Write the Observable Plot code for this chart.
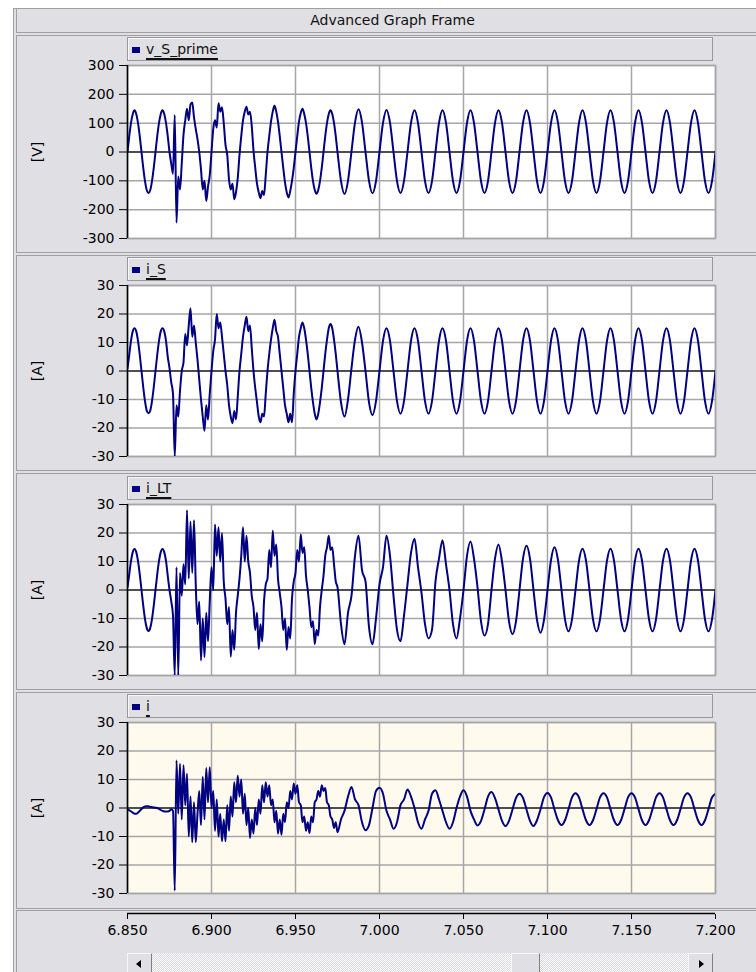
<!DOCTYPE html>
<html lang="en">
<head>
<meta charset="utf-8">
<title>Advanced Graph Frame</title>
<script src="https://cdn.jsdelivr.net/npm/d3@7"></script>
<script src="https://cdn.jsdelivr.net/npm/@observablehq/plot@0.6"></script>
<style>
  html, body { margin: 0; padding: 0; background: #ffffff; }
  body { position: relative; width: 756px; height: 972px; overflow: hidden;
         font-family: "DejaVu Sans", Verdana, sans-serif; font-size: 14px; color: #111; }
  .abs { position: absolute; box-sizing: border-box; }
  #frame { left: 13px; top: 8px; width: 800px; height: 1000px; background: #e0dfe3;
           border-left: 1px solid #a0a0a4; border-top: 1px solid #a0a0a4; }
  #title { left: 16px; top: 9px; width: 752px; height: 24px; line-height: 23px; text-align: center;
           border-left: 1px solid #a0a0a4; border-bottom: 1px solid #a0a0a4; color: #111; }
  .panel { left: 16px; width: 800px; border: 1px solid #a0a0a4; border-right: none; }
  .legend { left: 127px; width: 586px; height: 24px; background: #e0dfe3;
            border: 1px solid #98989c; box-shadow: inset 1px 1px 0 #f7f7f9; }
  .legend .sw { position: absolute; left: 4px; top: 9px; width: 8px; height: 6px; background: #000080; }
  .legend .lb { position: absolute; left: 18px; top: 3px; line-height: 16px; white-space: nowrap;
                text-decoration: underline; text-decoration-thickness: 1.5px;
                text-underline-offset: 4px; color: #111; }
  .chart { left: 0; }
  .chart svg { display: block; overflow: visible; }
  #track { left: 127px; top: 953px; width: 586px; height: 24px;
           background: repeating-conic-gradient(#d8d8dc 0 25%, #ffffff 0 50%) 0 0 / 2px 2px; }
  .btn { top: 953px; height: 24px; background: #e0dfe3; border: 1px solid;
         border-color: #f7f7f9 #808084 #808084 #f7f7f9; }
  .tri { position: absolute; top: 6px; width: 0; height: 0;
         border-top: 4px solid transparent; border-bottom: 4px solid transparent; }
</style>
</head>
<body>
<div class="abs" id="frame"></div>
<div class="abs" id="title">Advanced Graph Frame</div>
<script>
// ---- sampling clock -------------------------------------------------------
// Dense samples (1/960 s) through the disturbance, coarser (1/480 s) afterwards.
const denseStart = 6.85, denseStep = 1 / 960;
const sparseStart = 6.975, sparseStep = 1 / 480;

// ---- axis ticks -------------------------------------------------------------
const timeTicks = [6.85, 6.9, 6.95, 7.0, 7.05, 7.1, 7.15, 7.2];
const voltTicks = [-300, -200, -100, 0, 100, 200, 300];
const ampTicks = [-30, -20, -10, 0, 10, 20, 30];

// ---- series names and units ---------------------------------------------------
const seriesNames = ["v_S_prime", "i_S", "i_LT", "i"];
const seriesUnits = ["[V]", "[A]", "[A]", "[A]"];

// ---- v_S_prime [V] ------------------------------------------------------------
const vSDense = [
  0, 55, 101, 132, 145, 132, 101, 55, 0, -55, -101, -132, -142, -132, -101, -55,
  0, 55, 101, 132, 145, 132, 101, 55, 0, -40, -75, 128, -245, -85, -130, -40,
  60, 110, 150, 110, 165, 172, 120, 80, 45, 0, -60, -130, -100, -170, -120, -80,
  0, 80, 110, 85, 169, 140, 155, 100, 25, -10, -95, -130, -110, -164, -140, -90,
  -10, 55, 110, 140, 157, 130, 140, 90, 5, -55, -110, -140, -160, -135, -150, -80,
  0, 55, 105, 140, 160, 140, 105, 55, 0, -55, -105, -140, -158, -135, -100, -55,
  0, 55, 105, 135, 150, 132, 101, 55, 0, -55, -101, -132, -145, -132, -101, -55,
  0, 55, 101, 132, 145, 132, 101, 55
];
const vSSparse = [
  0, -101, -146, -100, 2, 102, 148, 103,
  0, -100, -143, -101, 0, 101, 146, 102,
  0, -101, -142, -100, 0, 101, 145, 101,
  0, -101, -142, -101, 0, 101, 145, 101,
  0, -101, -142, -101, 0, 101, 145, 101,
  0, -101, -142, -101, 0, 101, 145, 101,
  0, -101, -142, -101, 0, 101, 145, 101,
  0, -101, -142, -101, 0, 101, 145, 101,
  0, -101, -142, -101, 0, 101, 145, 101,
  0, -101, -142, -101, 0, 101, 145, 101,
  0, -101, -142, -101, 0, 101, 145, 101,
  0, -101, -142, -101, 0, 101, 145, 101,
  0, -101, -142, -101, 0, 101, 145, 101,
  0, -101, -142, -101, 0
];

// ---- i_S [A] ------------------------------------------------------------------
const iSDense = [
  1, 5.7, 10.6, 13.9, 15, 13.9, 10.6, 5.7, 0, -5.7, -10.6, -13.9, -14.8, -13.9, -10.6, -5.7,
  0, 5.7, 10.6, 13.9, 15, 13.9, 10.6, 5, 1, -4, -8, -30, -12, -16, -7, 0,
  3, 13, 9, 16, 22, 12, 16, 10, 4, -3, -10, -16, -21, -12, -17, -8,
  0, 7, 11, 20, 15, 17, 12, 6, 0, -5, -12, -16, -18.3, -14, -17, -9,
  0, 6, 12, 16, 19, 14, 16, 8, 0, -6, -11, -16, -18, -15, -16, -8,
  0, 6, 11, 15, 18, 14, 12, 6, 0, -6, -12, -15, -18, -15, -18, -8,
  0, 6, 12, 15, 17, 15, 11, 6, 0, -6, -11, -15, -17, -15, -11, -6,
  0, 6, 11, 15, 16.5, 15, 11, 6
];
const iSSparse = [
  0, -11, -16, -10, 1, 11, 15.5, 10,
  0, -11, -15.5, -10.6, 0, 10.6, 15, 10.6,
  0, -10.6, -15, -10.6, 0, 10.6, 15, 10.6,
  0, -10.6, -15, -10.6, 0, 10.6, 15, 10.6,
  0, -10.6, -15, -10.6, 0, 10.6, 15, 10.6,
  0, -10.6, -15, -10.6, 0, 10.6, 15, 10.6,
  0, -10.6, -15, -10.6, 0, 10.6, 15, 10.6,
  0, -10.6, -15, -10.6, 0, 10.6, 15, 10.6,
  0, -10.6, -15, -10.6, 0, 10.6, 15, 10.6,
  0, -10.6, -15, -10.6, 0, 10.6, 15, 10.6,
  0, -10.6, -15, -10.6, 0, 10.6, 15, 10.6,
  0, -10.6, -15, -10.6, 0, 10.6, 15, 10.6,
  0, -10.6, -15, -10.6, 0, 10.6, 15, 10.6,
  0, -10.6, -15, -10.6, 0
];

// ---- i_LT [A] -----------------------------------------------------------------
const iLTDense = [
  1, 5.5, 10.2, 13.3, 14.4, 13.3, 10.2, 5.5, 0, -5.5, -10.2, -13.3, -14.4, -13.3, -10.2, -5.5,
  0, 5.5, 10.2, 13.3, 14.4, 13.3, 10.2, 5, 0, -4, -9, -30, 8, -30, 6, -2,
  9, 2, 28, 4, 24, 6, 24.5, 2, -12, -4, -24.7, -10, -23.5, -8, -18, -4,
  8, 0, 23, 12, 22, 10, 20, 3, -3, -12, -6, -23.4, -14, -21, -8, -2,
  4, 12, 22, 10, 19, 10, 6, -2, -6, -14, -8, -20.7, -12, -18, -4, 2,
  4, 14, 8, 20.8, 12, 16, 4, -1, -6, -14, -10, -21, -13, -17, -3, 3,
  6, 14, 10, 19.6, 13, 15, 5, 0, -6, -13, -11, -19, -14, -16, -6, 0,
  5, 12, 15, 19, 14, 15, 9, 3
];
const iLTSparse = [
  1, -12, -19, -8, -2, 12, 19, 7,
  3, -13, -19, -10, 2, 8, 19, 12,
  -2, -14, -18, -9, 2, 13, 18, 8,
  -1, -12, -17, -14, 3, 11, 17.5, 9,
  0, -12, -17, -10, 0, 12, 17, 11,
  1, -11, -16, -12, 0, 11, 16, 10,
  0, -11, -15.5, -11, 0, 11, 15.5, 11,
  0, -10.5, -15, -10.5, 0, 10.5, 15, 10.5,
  0, -10.3, -14.5, -10.3, 0, 10.3, 14.5, 10.3,
  0, -10.3, -14.5, -10.3, 0, 10.3, 14.5, 10.3,
  0, -10.3, -14.5, -10.3, 0, 10.3, 14.5, 10.3,
  0, -10.3, -14.5, -10.3, 0, 10.3, 14.5, 10.3,
  0, -10.3, -14.5, -10.3, 0, 10.3, 14.5, 10.3,
  0, -10.3, -14.5, -10.3, 0
];

// ---- i [A] --------------------------------------------------------------------
const iDense = [
  -0.5, -0.8, -1.2, -1.6, -2, -2, -1.6, -1, -0.4, 0.2, 0.5, 0.6, 0.6, 0.4, 0.3, 0.2,
  0.1, 0, -0.3, -0.7, -1, -1.2, -1.2, -1.2, -1, -0.4, -1, -29, 16.7, -2, 15.5, -4,
  15, 1, 12, -10, 4, -12, 2, -12, -2, 6, -6, 11, -4, 14, 2, 14.3,
  0, 6, -8, 3, -10, -2, -11.7, -4, -11.7, 1, -8, 4, -3, 9, 2, 11.4,
  4, 10, -2, 5, -6, 0, -10.5, -4, -9, 0, -6, 3, -2, 8, 2, 9,
  4, 8, 1, 3, -5, -1, -9, -4, -9.4, -2, -5, 2, 0, 6, 3, 8.6,
  5, 8, 2, 1, -5, -3, -8, -5, -8.8, -3, -5, 2, 3, 6, 4, 8,
  6, 7, 2, 1, -3, -4, -7, -5
];
const iSparse = [
  -8.5, -4, -1, 4, 7.4, 3, 1, -5,
  -7.8, -6, 0, 6, 7.1, 5, -1, -4,
  -7.3, -5, 1, 3, 6.5, 4, 0, -5,
  -7.3, -4, -1, 5, 6.2, 3, -1, -5,
  -7.3, -5, 0, 4, 6.2, 4, -1, -4,
  -6.1, -4.5, -0.5, 4, 5.6, 3.5, -0.5, -4.5,
  -6.3, -4.5, -0.5, 3.5, 5, 3.5, -0.5, -4.5,
  -6.3, -4.3, -0.5, 3.8, 5.3, 3.7, -0.5, -4.3,
  -6, -4.3, -0.4, 3.7, 5.2, 3.7, -0.4, -4.3,
  -6, -4.3, -0.4, 3.7, 5.2, 3.7, -0.4, -4.3,
  -6, -4.3, -0.4, 3.7, 5.2, 3.7, -0.4, -4.3,
  -6, -4.3, -0.4, 3.7, 5.2, 3.7, -0.4, -4.3,
  -6, -4.3, -0.4, 3.7, 5.2, 3.7, -0.4, -4.3,
  -6, -4.3, -0.4, 3.7, 5
];

// ---- page layout (pixel rows of each graph panel) -------------------------------
const layout = [
  {box: [35, 252], plot: [65, 238], fill: "#ffffff"},
  {box: [255, 470], plot: [285, 456], fill: "#ffffff"},
  {box: [473, 689], plot: [504, 675], fill: "#ffffff"},
  {box: [692, 908], plot: [722, 893], fill: "#fffaee"}
];
const denseSeries = [vSDense, iSDense, iLTDense, iDense];
const sparseSeries = [vSSparse, iSSparse, iLTSparse, iSparse];
const tickSets = [voltTicks, ampTicks, ampTicks, ampTicks];

const gridColor = "#a6a6a6";
const traceColor = "#000080";
const plotStyle = {
  background: "transparent",
  fontFamily: "'DejaVu Sans', Verdana, sans-serif",
  fontSize: "14px",
  color: "#000",
  overflow: "visible"
};

function samples(dense, sparse) {
  const rows = dense.map((y, k) => ({t: denseStart + k * denseStep, y}));
  sparse.forEach((y, k) => rows.push({t: sparseStart + k * sparseStep, y}));
  return rows;
}

function addDiv(cls, css, html) {
  const d = document.createElement("div");
  d.className = "abs " + cls;
  Object.assign(d.style, css);
  if (html != null) d.innerHTML = html;
  document.body.appendChild(d);
  return d;
}

const mt = 12, mb = 12;
layout.forEach((L, i) => {
  addDiv("panel", {top: L.box[0] + "px", height: (L.box[1] - L.box[0] + 1) + "px"});

  const leg = addDiv("legend", {top: (L.plot[0] - 28) + "px"});
  leg.innerHTML = `<span class="sw"></span><span class="lb">${seriesNames[i]}</span>`;

  const ticks = tickSets[i];
  const lim = d3.max(ticks);
  const chart = Plot.plot({
    width: 756,
    height: (L.plot[1] - L.plot[0]) + mt + mb,
    marginTop: mt, marginBottom: mb, marginLeft: 127, marginRight: 41,
    x: {domain: [timeTicks[0], timeTicks[timeTicks.length - 1]], axis: null},
    y: {domain: [-lim, lim], axis: null},
    style: plotStyle,
    marks: [
      Plot.frame({fill: L.fill, stroke: "none"}),
      Plot.gridX(timeTicks, {stroke: gridColor, strokeOpacity: 1, strokeWidth: 1.5}),
      Plot.gridY(ticks, {stroke: gridColor, strokeOpacity: 1, strokeWidth: 1.5}),
      Plot.frame({stroke: gridColor, strokeWidth: 1.5}),
      Plot.ruleY([0], {stroke: "#2a2a2a", strokeWidth: 1.5}),
      Plot.line(samples(denseSeries[i], sparseSeries[i]), {
        x: "t", y: "y", stroke: traceColor, strokeWidth: 2, curve: "monotone-x", clip: true
      }),
      Plot.ruleX([timeTicks[0]], {stroke: "#000", strokeWidth: 1.5}),
      Plot.axisY(ticks, {tickSize: 8, tickPadding: 5, tickFormat: d => String(d), label: null, stroke: "#000"}),
      Plot.text([seriesUnits[i]], {
        frameAnchor: "left", dx: -90, rotate: -90, text: d => d,
        fontSize: 14, fill: "#000", lineAnchor: "middle", textAnchor: "middle"
      })
    ]
  });
  const holder = addDiv("chart", {top: (L.plot[0] - mt) + "px"});
  holder.appendChild(chart);
});

// ---- shared time axis ------------------------------------------------------------
addDiv("panel", {top: "910px", height: "80px"});
const timeAxis = Plot.plot({
  width: 756, height: 42,
  marginTop: 1, marginBottom: 40, marginLeft: 127, marginRight: 41,
  x: {domain: [timeTicks[0], timeTicks[timeTicks.length - 1]], axis: null},
  y: {domain: [0, 1], axis: null},
  style: plotStyle,
  marks: [
    Plot.ruleY([1], {stroke: "#000", strokeWidth: 1.5}),
    Plot.axisX(timeTicks, {anchor: "bottom", tickSize: 5, tickPadding: 6,
      tickFormat: d3.format(".3f"), label: null, stroke: "#000"})
  ]
});
addDiv("chart", {top: "912px"}).appendChild(timeAxis);

// ---- scroll bar ---------------------------------------------------------------------
addDiv("", {left: "127px", top: "953px", width: "586px", height: "24px"}).id = "track";
const leftBtn = addDiv("btn", {left: "127px", width: "25px"});
leftBtn.innerHTML = '<span class="tri" style="left:8px;border-right:5px solid #000"></span>';
addDiv("btn", {left: "511px", width: "29px"});
const rightBtn = addDiv("btn", {left: "688px", width: "25px"});
rightBtn.innerHTML = '<span class="tri" style="left:10px;border-left:5px solid #000"></span>';
</script>
</body>
</html>
